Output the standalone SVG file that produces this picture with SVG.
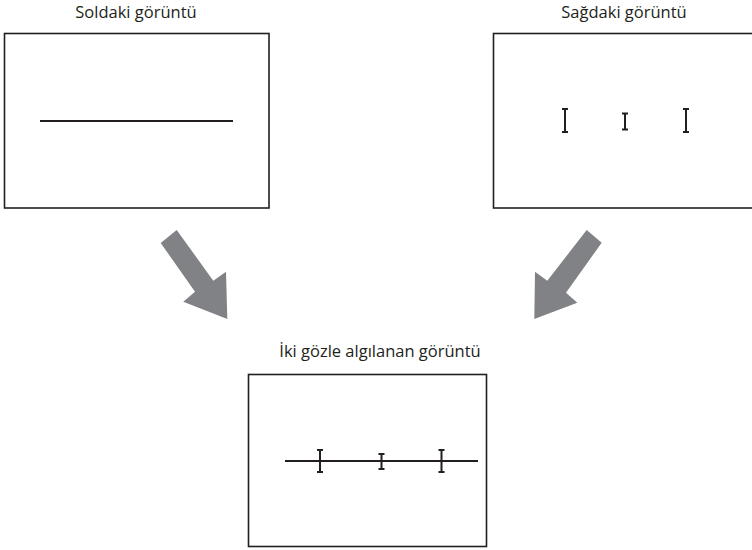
<svg xmlns="http://www.w3.org/2000/svg" width="752" height="550" viewBox="0 0 752 550">
<style>
.box{fill:#fff;stroke:#231f20;stroke-width:1.6}
.ln{stroke:#231f20;stroke-width:2;fill:none}
.ib{stroke:#231f20;stroke-width:2;fill:none}
.lbl{font-family:"Open Sans","Noto Sans",sans-serif;font-size:16.5px;fill:#231f20;text-anchor:middle}
.arr{fill:#808285}
</style>
<rect width="752" height="550" fill="#fff"/>
<g id="left">
<text class="lbl" x="136" y="17.5">Soldaki görüntü</text>
<rect class="box" x="4.5" y="33.5" width="264.5" height="174.5"/>
<line class="ln" x1="40" y1="121" x2="233" y2="121"/>
</g>
<g id="right">
<text class="lbl" x="624" y="17.5">Sağdaki görüntü</text>
<rect class="box" x="493.5" y="33.5" width="265" height="174.5"/>
<path class="ib" d="M565 109V132M562 109H568M562 132H568"/>
<path class="ib" d="M625 113.5V129.5M622 113.5H628M622 129.5H628"/>
<path class="ib" d="M686 109V132M683 109H689M683 132H689"/>
</g>
<g id="combined">
<text class="lbl" x="380" y="356.5">İki gözle algılanan görüntü</text>
<rect class="box" x="248.5" y="374.5" width="238" height="172"/>
<line class="ln" x1="285" y1="461" x2="478" y2="461"/>
<path class="ib" d="M320 450V472M317 450H323M317 472H323"/>
<path class="ib" d="M381.5 454V469M378.5 454H384.5M378.5 469H384.5"/>
<path class="ib" d="M441.5 450V472M438.5 450H444.5M438.5 472H444.5"/>
</g>
<g id="connectors">
<polygon class="arr" points="160.7,243 176.7,230 213.3,280.7 226,271.7 227.3,319 183.3,301.7 195,291.7"/>
<polygon class="arr" points="601.7,242.7 586.7,230 547.3,280.7 535,271.7 534.3,319 577.3,302.7 566,292.7"/>
</g>
</svg>
